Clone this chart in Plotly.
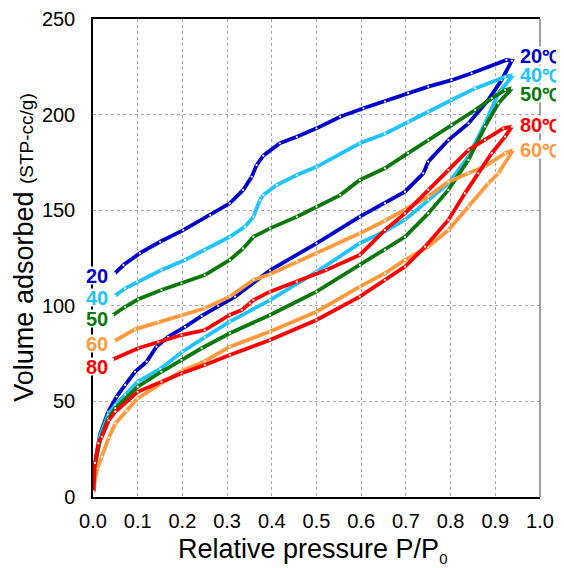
import plotly.graph_objects as go

# ---------------- data ----------------
temps = ["20", "40", "50", "60", "80"]
colors = ["#0000CC", "#1EC3FF", "#0A780A", "#FF9A3C", "#FF0000"]

# 20 C
p_ads_20 = [0.001, 0.004, 0.008, 0.016, 0.034, 0.053, 0.072, 0.094, 0.12, 0.142, 0.168, 0.206, 0.243, 0.28, 0.318, 0.396, 0.5, 0.597, 0.653, 0.698, 0.739, 0.75, 0.795, 0.84, 0.884, 0.914, 0.937]
v_ads_20 = [3, 15, 22, 33, 44.6, 52.5, 58.6, 65.5, 70.8, 78.6, 83.8, 89, 94.7, 99.9, 104.8, 118.5, 132.7, 146.6, 153.6, 159.7, 169.3, 175.4, 186.7, 195.4, 207.6, 218, 228.2]
p_des_20 = [0.925, 0.847, 0.802, 0.75, 0.705, 0.653, 0.605, 0.553, 0.5, 0.456, 0.418, 0.381, 0.366, 0.355, 0.336, 0.306, 0.262, 0.202, 0.15, 0.105, 0.068, 0.049]
v_des_20 = [228.6, 221.6, 218, 214.6, 211.2, 206.8, 203.3, 198.9, 192.8, 188.4, 185, 178.5, 173.6, 167.5, 160.6, 153.6, 147.5, 139.6, 133.5, 127.5, 121.3, 117]

# 40 C
p_ads_40 = [0.001, 0.004, 0.008, 0.016, 0.034, 0.05, 0.072, 0.1, 0.15, 0.2, 0.25, 0.306, 0.396, 0.5, 0.597, 0.653, 0.698, 0.75, 0.795, 0.84, 0.877, 0.907, 0.94]
v_ads_40 = [3, 15, 22, 32, 43, 48.1, 53.5, 60.3, 67, 76, 83.5, 91.7, 103, 117.8, 132.7, 139, 145, 155.3, 164, 178, 195.4, 211.2, 220.7]
p_des_40 = [0.922, 0.855, 0.802, 0.75, 0.705, 0.653, 0.597, 0.5, 0.456, 0.411, 0.381, 0.373, 0.359, 0.34, 0.306, 0.25, 0.206, 0.153, 0.099, 0.072, 0.049]
v_des_40 = [219.8, 213.7, 207.6, 201.5, 196.3, 190, 185, 172.7, 168.4, 163.2, 157.9, 155.3, 146.6, 141.4, 136.1, 129.2, 124, 118.7, 112.6, 109.1, 105.3]

# 50 C
p_ads_50 = [0.001, 0.004, 0.008, 0.016, 0.034, 0.05, 0.1, 0.153, 0.198, 0.243, 0.306, 0.396, 0.5, 0.597, 0.653, 0.698, 0.75, 0.795, 0.84, 0.877, 0.907, 0.937]
v_ads_50 = [3, 14, 21, 30, 41, 46.4, 57.7, 65.5, 71.7, 77.8, 85.6, 95.2, 107.4, 121.3, 129.2, 136.1, 148.3, 160.6, 176.3, 193.7, 205.9, 213.7]
p_des_50 = [0.922, 0.892, 0.855, 0.802, 0.75, 0.705, 0.653, 0.597, 0.553, 0.5, 0.456, 0.396, 0.359, 0.336, 0.306, 0.25, 0.198, 0.153, 0.101, 0.072, 0.045]
v_des_50 = [212.9, 208.5, 202.4, 194.6, 186.7, 179.8, 171.9, 165.8, 157.9, 151.9, 146.6, 140.5, 136.1, 130, 124, 116.1, 111.8, 108.3, 103.4, 99.5, 95.2]

# 60 C
p_ads_60 = [0.001, 0.004, 0.01, 0.02, 0.035, 0.05, 0.075, 0.1, 0.15, 0.2, 0.25, 0.306, 0.396, 0.5, 0.597, 0.653, 0.698, 0.75, 0.795, 0.84, 0.884, 0.907, 0.94]
v_ads_60 = [2, 9, 15, 21, 31, 38.5, 45, 51.6, 59, 66, 71, 78.6, 86.5, 96.9, 110, 117, 124, 130.9, 139.6, 151.9, 164, 169.3, 181.5]
p_des_60 = [0.922, 0.877, 0.84, 0.795, 0.75, 0.698, 0.653, 0.597, 0.5, 0.456, 0.396, 0.359, 0.306, 0.25, 0.198, 0.146, 0.094, 0.048]
v_des_60 = [179.8, 172.9, 169.3, 164.9, 157.1, 150.1, 144.5, 137.9, 127.4, 123.1, 116.5, 113.5, 104.8, 98.7, 95.2, 91.7, 87.7, 81.6]

# 80 C
p_ads_80 = [0.001, 0.0045, 0.012, 0.02, 0.035, 0.05, 0.1, 0.153, 0.198, 0.25, 0.306, 0.396, 0.5, 0.597, 0.653, 0.698, 0.743, 0.795, 0.832, 0.862, 0.892, 0.922, 0.937]
v_ads_80 = [3, 17.8, 28, 31.5, 40, 44.6, 55, 60.3, 64.7, 69, 74.3, 82.1, 92.6, 104.8, 113.5, 120.5, 130.9, 144.9, 158.8, 169.3, 179.8, 188.5, 193.7]
p_des_80 = [0.918, 0.877, 0.84, 0.795, 0.75, 0.698, 0.653, 0.597, 0.522, 0.456, 0.396, 0.359, 0.351, 0.333, 0.306, 0.25, 0.198, 0.146, 0.101, 0.045]
v_des_80 = [192.8, 186.7, 181.5, 171, 160.6, 148.3, 139.6, 126.6, 118.7, 112.6, 107.4, 103, 101.3, 97.8, 95.2, 87.3, 84.7, 81.2, 77.8, 72]

x_ticks = [round(0.1 * i, 1) for i in range(11)]
y_ticks = [0, 50, 100, 150, 200, 250]

series = {
    "20": (p_ads_20, v_ads_20, p_des_20, v_des_20),
    "40": (p_ads_40, v_ads_40, p_des_40, v_des_40),
    "50": (p_ads_50, v_ads_50, p_des_50, v_des_50),
    "60": (p_ads_60, v_ads_60, p_des_60, v_des_60),
    "80": (p_ads_80, v_ads_80, p_des_80, v_des_80),
}

left_label_y = {"20": 116, "40": 104.6, "50": 93.2, "60": 80.2, "80": 68.2}
right_label_y = {"20": 231.0, "40": 220.8, "50": 210.8, "80": 194.9, "60": 181.6}

FONT = "Arial, 'Liberation Sans', sans-serif"
DEG_C = "<span style='font-size:18px'>℃</span>"

fig = go.Figure()
for t, c in zip(temps, colors):
    pa, va, pd_, vd = series[t]
    fig.add_trace(go.Scatter(
        x=pa + pd_, y=va + vd, mode="lines+markers",
        line=dict(color=c, width=3.8),
        marker=dict(color="white", size=2.2, line=dict(width=0)),
        name=t + "℃", showlegend=False, hoverinfo="skip"))

annotations = []
for t, c in zip(temps, colors):
    annotations.append(dict(
        x=0.036, y=left_label_y[t], xref="x", yref="y", xanchor="right", yanchor="middle",
        text="<b>%s</b>" % t, showarrow=False, font=dict(family=FONT, size=20, color=c),
        bgcolor="white", borderpad=0, height=17))
for t in ["20", "40", "50", "80", "60"]:
    c = colors[temps.index(t)]
    annotations.append(dict(
        x=0.954, y=right_label_y[t], xref="x", yref="y", xanchor="left", yanchor="middle",
        text="<b>%s%s</b>" % (t, DEG_C), showarrow=False, font=dict(family=FONT, size=20, color=c),
        bgcolor="white", borderpad=0, height=17))

# axis titles
annotations.append(dict(
    x=-0.155, y=0.521, xref="paper", yref="paper", xanchor="center", yanchor="middle",
    textangle=-90, showarrow=False,
    text="Volume adsorbed <span style='font-size:19px'>(STP-cc/g)</span>",
    font=dict(family=FONT, size=27, color="black")))
annotations.append(dict(
    x=0.491, y=-0.111, xref="paper", yref="paper", xanchor="center", yanchor="middle",
    showarrow=False, text="Relative pressure P/P<sub><span style='font-size:15px'>0</span></sub>",
    font=dict(family=FONT, size=27, color="black")))

# the page body adds an 8 px offset, so the figure is 8 px smaller than the window
fig.update_layout(
    width=556, height=560,
    margin=dict(l=85, r=24, t=11, b=71),
    paper_bgcolor="white", plot_bgcolor="white",
    font=dict(family=FONT, size=20, color="black"),
    xaxis=dict(range=[0, 1], tickvals=x_ticks, ticktext=["%.1f" % v for v in x_ticks],
               showgrid=True, gridcolor="#A6A6A6", griddash="dot", gridwidth=1,
               showline=True, linecolor="black", linewidth=1.5, mirror=True,
               ticks="", zeroline=False, tickfont=dict(size=20),
               ticklabelstandoff=5, automargin=False),
    yaxis=dict(range=[0, 250], tickvals=y_ticks,
               showgrid=True, gridcolor="#A6A6A6", griddash="dot", gridwidth=1,
               showline=True, linecolor="black", linewidth=1.5, mirror=False,
               ticks="", zeroline=False, tickfont=dict(size=20),
               ticklabelstandoff=12, automargin=False),
    shapes=[dict(type="line", xref="paper", yref="paper", x0=1, x1=1, y0=0, y1=1,
                 line=dict(color="#7F7F7F", width=1.5), layer="above")],
    annotations=annotations,
)

fig.write_html("out.html")
